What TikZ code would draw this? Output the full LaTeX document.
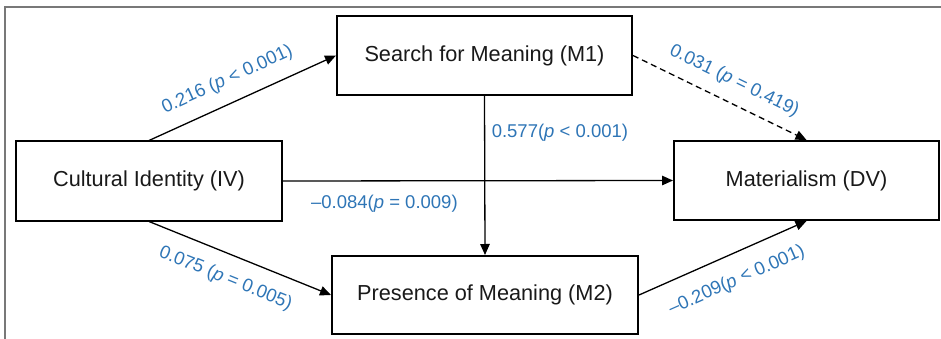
\documentclass[tikz,border=0pt]{standalone}
\usepackage{fontspec}
\setmainfont{Liberation Sans}
\usetikzlibrary{arrows.meta}
\definecolor{labblue}{RGB}{46,117,182}
\definecolor{txtdark}{RGB}{25,25,25}
\definecolor{framegray}{RGB}{120,120,120}
\tikzset{
  box/.style={draw=black, line width=2pt, rectangle, inner sep=0pt,
    font=\fontsize{21.7}{24}\selectfont, text=txtdark},
  conn/.style={line width=1.3pt, -{Triangle[length=11pt,width=9.5pt]}},
  lab/.style={font=\fontsize{18.5}{21}\selectfont, text=labblue, inner sep=0pt, anchor=center}
}
\begin{document}
\begin{tikzpicture}[x=1pt,y=-1pt]
\useasboundingbox (0,0) rectangle (941,339);
\draw[framegray, line width=1.4pt] (5,339) -- (5,7) -- (941,7);
\node[box, minimum width=266pt, minimum height=79pt] (ci) at (149,181) {Cultural Identity (IV)};
\node[box, minimum width=295pt, minimum height=79pt] (m1) at (484.5,55.5) {Search for Meaning (M1)};
\node[box, minimum width=306pt, minimum height=78pt] (m2) at (485,295) {Presence of Meaning (M2)};
\node[box, minimum width=265pt, minimum height=79pt] (dv) at (806.5,180.5) {Materialism (DV)};
\draw[conn] (ci.north) -- node[lab, sloped, pos=0.47, yshift=22.8pt] (l1) {0.216 (\textit{p} < 0.001)} (m1.west);
\draw[conn] (ci.south) -- node[lab, sloped, pos=0.47, yshift=-24.2pt] (l2) {0.075 (\textit{p} = 0.005)} (m2.west);
\draw[conn] (ci.east) -- node[lab, pos=0.26, yshift=-23pt] (l3) {\textendash 0.084(\textit{p} = 0.009)} (dv.west);
\draw[conn] (m1.south) -- node[lab, pos=0.23, anchor=west, xshift=6.5pt] (l4) {0.577(\textit{p} < 0.001)} (m2.north);
\draw[conn, dashed, dash pattern=on 6pt off 4pt] (m1.east) -- node[lab, sloped, pos=0.53, yshift=21.3pt] (l5) {0.031 (\textit{p} = 0.419)} (dv.north);
\draw[conn] (m2.east) -- node[lab, sloped, pos=0.52, yshift=-26.2pt] (l6) {\textendash 0.209(\textit{p} < 0.001)} (dv.south);
\end{tikzpicture}
\end{document}
